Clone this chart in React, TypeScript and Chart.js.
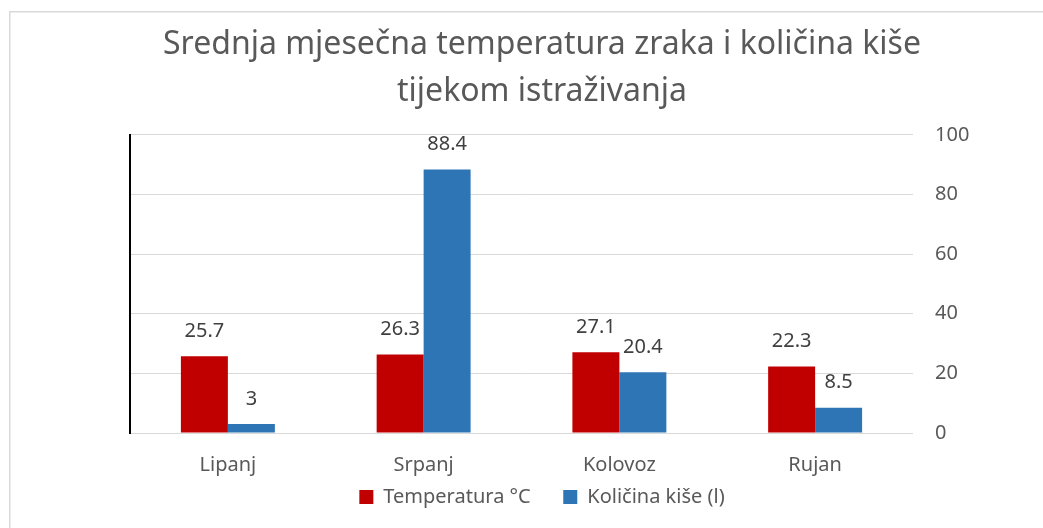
import React, { useEffect, useRef } from "react";
import { Chart, registerables } from "chart.js";

Chart.register(...registerables);

const categories = ["Lipanj", "Srpanj", "Kolovoz", "Rujan"];
const temperature = [25.7, 26.3, 27.1, 22.3];
const rainfall = [3, 88.4, 20.4, 8.5];
const seriesNames = ["Temperatura °C", "Količina kiše (l)"];
const titleLines = ["Srednja mjesečna temperatura zraka i količina kiše", "tijekom istraživanja"];
const yTicks = [0, 20, 40, 60, 80, 100];

const FONT = "'Noto Sans', 'Open Sans', sans-serif";

const framePlugin = {
  id: "frame",
  beforeDraw(chart: any) {
    const ctx = chart.ctx;
    ctx.save();
    ctx.fillStyle = "#ffffff";
    ctx.fillRect(0, 0, chart.width, chart.height);
    ctx.strokeStyle = "#d9d9d9";
    ctx.lineWidth = 1.5;
    ctx.strokeRect(9.75, 11.75, chart.width + 20, chart.height + 20);
    ctx.restore();
  },
};

const labelPlugin = {
  id: "valueLabels",
  afterDatasetsDraw(chart: any) {
    const ctx = chart.ctx;
    ctx.save();
    ctx.font = `20px ${FONT}`;
    ctx.fillStyle = "#404040";
    ctx.textAlign = "center";
    ctx.textBaseline = "middle";
    chart.data.datasets.forEach((ds: any, i: number) => {
      const meta = chart.getDatasetMeta(i);
      meta.data.forEach((el: any, j: number) => {
        ctx.fillText(String(ds.data[j]), el.x, el.y - 25);
      });
    });
    ctx.restore();
  },
};

export default function App() {
  const ref = useRef<HTMLCanvasElement | null>(null);
  useEffect(() => {
    if (!ref.current) return;
    const chart = new Chart(ref.current, {
      type: "bar",
      data: {
        labels: categories,
        datasets: [
          {
            label: seriesNames[0],
            data: temperature,
            backgroundColor: "#c00000",
            borderWidth: 0,
            yAxisID: "y",
          },
          {
            label: seriesNames[1],
            data: rainfall,
            backgroundColor: "#2e75b6",
            borderWidth: 0,
            yAxisID: "y",
          },
        ],
      },
      options: {
        animation: false,
        responsive: false,
        maintainAspectRatio: false,
        devicePixelRatio: 1,
        layout: { padding: { left: 113, right: 72, top: 12, bottom: 11 } },
        datasets: { bar: { barPercentage: 1, categoryPercentage: 0.48 } },
        scales: {
          x: {
            grid: { display: false, drawTicks: false },
            border: { display: false },
            ticks: { font: { family: FONT, size: 20 }, color: "#595959", padding: 20 },
            afterFit(scale: any) {
              scale.height = 47.5;
            },
          },
          yl: {
            position: "left",
            min: 0,
            max: 100,
            grid: { display: false, drawTicks: false },
            border: { display: true, color: "#000000", width: 2 },
            ticks: { display: false },
            afterFit(scale: any) {
              scale.width = 17;
            },
          },
          y: {
            position: "right",
            min: 0,
            max: 100,
            afterBuildTicks(scale: any) {
              scale.ticks = yTicks.map((v) => ({ value: v }));
            },
            grid: { color: "#d9d9d9", lineWidth: 1, drawTicks: false },
            border: { display: false },
            ticks: { font: { family: FONT, size: 20 }, color: "#595959", padding: 22 },
            afterFit(scale: any) {
              scale.width = 58;
            },
          },
        },
        plugins: {
          title: {
            display: true,
            text: titleLines,
            color: "#595959",
            font: { family: FONT, size: 32, weight: "normal", lineHeight: 1.45 },
            padding: { top: 10, bottom: 20 },
          },
          legend: {
            position: "bottom",
            labels: {
              font: { family: FONT, size: 20 },
              color: "#595959",
              boxWidth: 14,
              boxHeight: 14,
              padding: 6.5,
              generateLabels(chart: any) {
                const items = Chart.defaults.plugins.legend.labels.generateLabels(chart);
                return items.map((it: any, i: number) => ({
                  ...it,
                  text: i < items.length - 1 ? it.text + "\u00a0\u00a0\u00a0\u00a0\u00a0" : it.text,
                }));
              },
            },
          },
          tooltip: { enabled: false },
        },
      },
      plugins: [framePlugin, labelPlugin],
    });
    return () => chart.destroy();
  }, []);
  return (
    <div style={{ position: "absolute", left: 0, top: 0, width: 1043, height: 528 }}>
      <canvas ref={ref} width={1043} height={528} style={{ width: 1043, height: 528 }} />
    </div>
  );
}
